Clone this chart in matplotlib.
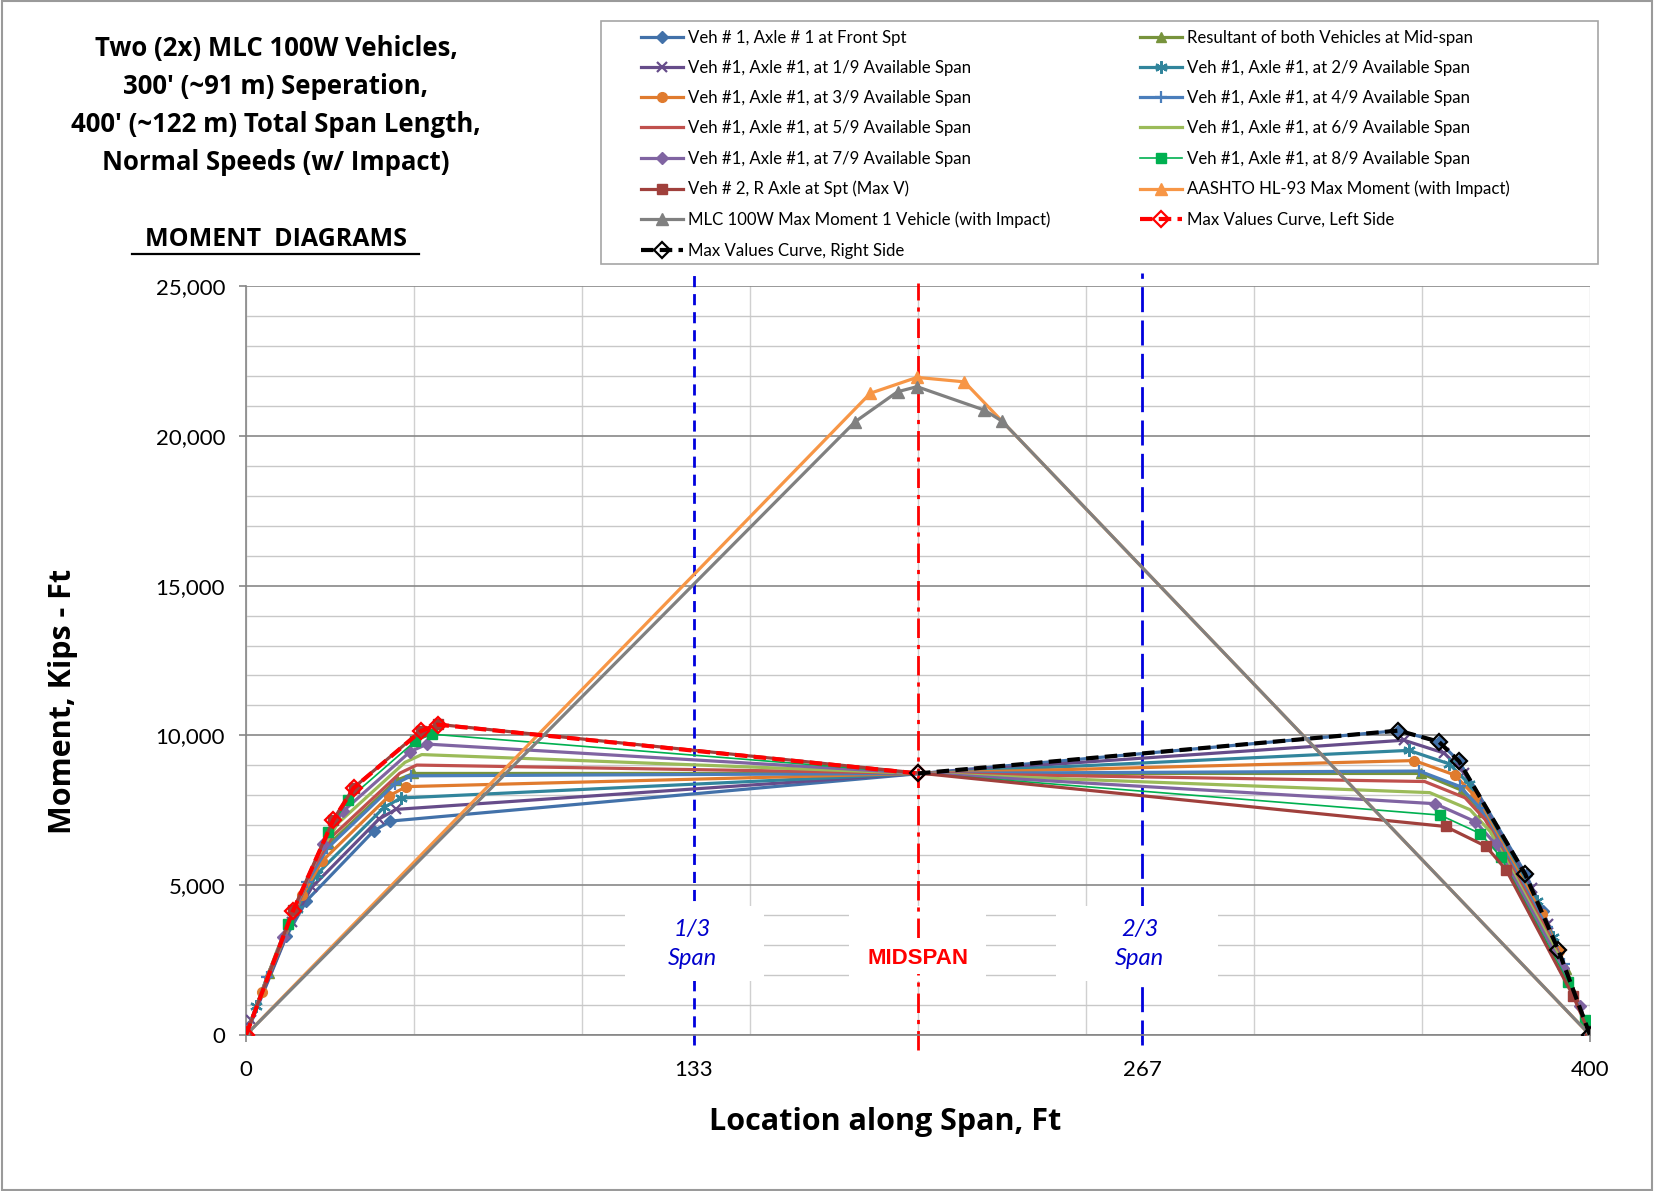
import matplotlib
matplotlib.use("Agg")
import matplotlib.pyplot as plt
from matplotlib.patches import Rectangle
from matplotlib.lines import Line2D
from matplotlib.ticker import FixedLocator, MultipleLocator, FuncFormatter

plt.rcParams['font.family'] = ['Lato', 'DejaVu Sans']

# ---- values: x = location (ft), m = moment (kip-ft) ----
x_front = [0, 12, 18, 38, 43, 343, 355, 361, 381, 386, 400]
m_front = [0, 3290, 4480, 6810, 7140, 10160, 9790, 9140, 5350, 4130, 0]

x_result = [0, 6.8, 18.8, 24.8, 44.8, 49.8, 349.8, 361.8, 367.8, 387.8, 392.8, 400]
m_result = [0, 2080, 5250, 6380, 8500, 8730, 8730, 8170, 7450, 3450, 2210, 0]

x_19 = [0, 1.6, 13.6, 19.6, 39.6, 44.6, 344.6, 356.6, 362.6, 382.6, 387.6, 400]
m_19 = [0, 490, 3760, 4930, 7210, 7530, 9840, 9410, 8740, 4900, 3700, 0]

x_29 = [0, 3.1, 15.1, 21.1, 41.1, 46.1, 346.1, 358.1, 364.1, 384.1, 389.1, 400]
m_29 = [0, 980, 4210, 5370, 7600, 7910, 9500, 9050, 8370, 4480, 3260, 0]

x_39 = [0, 4.7, 16.7, 22.7, 42.7, 47.7, 347.7, 359.7, 365.7, 385.7, 390.7, 400]
m_39 = [0, 1450, 4660, 5810, 7990, 8290, 9160, 8680, 7980, 4050, 2820, 0]

x_49 = [0, 6.2, 18.2, 24.2, 44.2, 49.2, 349.2, 361.2, 367.2, 387.2, 392.2, 400]
m_49 = [0, 1920, 5100, 6230, 8370, 8650, 8810, 8300, 7590, 3610, 2370, 0]

x_59 = [0, 7.8, 19.8, 25.8, 45.8, 50.8, 350.8, 362.8, 368.8, 388.8, 393.8, 400]
m_59 = [0, 2380, 5530, 6650, 8740, 9010, 8460, 7920, 7190, 3160, 1910, 0]

x_69 = [0, 9.3, 21.3, 27.3, 47.3, 52.3, 352.3, 364.3, 370.3, 390.3, 395.3, 400]
m_69 = [0, 2840, 5960, 7060, 9100, 9360, 8090, 7520, 6790, 2710, 1440, 0]

x_79 = [0, 10.9, 22.9, 28.9, 48.9, 53.9, 353.9, 365.9, 371.9, 391.9, 396.9, 400]
m_79 = [0, 3280, 6380, 7470, 9460, 9710, 7720, 7120, 6370, 2250, 970, 0]

x_89 = [0, 12.4, 24.4, 30.4, 50.4, 55.4, 355.4, 367.4, 373.4, 393.4, 398.4, 400]
m_89 = [0, 3720, 6790, 7860, 9810, 10040, 7340, 6720, 5950, 1780, 490, 0]

x_veh2 = [0, 14, 26, 32, 52, 57, 357, 369, 375, 395, 400]
m_veh2 = [0, 4160, 7190, 8250, 10150, 10370, 6960, 6300, 5520, 1300, 0]

x_hl93 = [0, 185.8, 199.7, 213.8, 400]
m_hl93 = [0, 21420, 21950, 21800, 0]

x_mlc = [0, 181.3, 193.9, 199.7, 219.7, 225.0, 400]
m_mlc = [0, 20470, 21470, 21640, 20860, 20490, 0]

x_maxl = [0, 14, 26, 32, 52, 57, 200]
m_maxl = [0, 4150, 7180, 8240, 10140, 10360, 8730]

x_maxr = [200, 343, 355, 361, 380.7, 390.6, 400]
m_maxr = [8730, 10160, 9790, 9140, 5370, 2830, 0]

span_marks = [400 / 3, 200, 800 / 3]
x_ticks = [0, 400 / 3, 800 / 3, 400]
x_ticklabels = ['0', '133', '267', '400']

W, H = 1654, 1191
fig = plt.figure(figsize=(W / 100, H / 100), dpi=100)


def fx(px):
    return px / W


def fy(py):
    return 1 - py / H


ax = fig.add_axes([fx(246), fy(1035), fx(1590) - fx(246), fy(286) - fy(1035)])

# series (drawn in the chart's order, later ones on top)
series = [
    (x_front, m_front, '#4271A9', 2.3, 'D', 6, "Veh # 1, Axle # 1 at Front Spt"),
    (x_result, m_result, '#77933C', 2.3, '^', 7, "Resultant of both Vehicles at Mid-span"),
    (x_19, m_19, '#664C8A', 2.3, 'x', 7, "Veh #1, Axle #1, at 1/9 Available Span"),
    (x_29, m_29, '#31859C', 2.3, (6, 2, 0), 9, "Veh #1, Axle #1, at 2/9 Available Span"),
    (x_39, m_39, '#E07B2E', 2.3, 'o', 7, "Veh #1, Axle #1, at 3/9 Available Span"),
    (x_49, m_49, '#4A7EBB', 2.3, '+', 9, "Veh #1, Axle #1, at 4/9 Available Span"),
    (x_59, m_59, '#C0504D', 2.3, None, 0, "Veh #1, Axle #1, at 5/9 Available Span"),
    (x_69, m_69, '#9BBB59', 2.3, None, 0, "Veh #1, Axle #1, at 6/9 Available Span"),
    (x_79, m_79, '#8064A2', 2.3, 'D', 6, "Veh #1, Axle #1, at 7/9 Available Span"),
    (x_89, m_89, '#00B050', 1.2, 's', 6.5, "Veh #1, Axle #1, at 8/9 Available Span"),
    (x_veh2, m_veh2, '#A0403C', 2.3, 's', 7, "Veh # 2, R Axle at Spt (Max V)"),
    (x_hl93, m_hl93, '#F79646', 2.3, '^', 8, "AASHTO HL-93 Max Moment (with Impact)"),
    (x_mlc, m_mlc, '#808080', 2.3, '^', 8, "MLC 100W Max Moment 1 Vehicle (with Impact)"),
]

handles = {}
z = 3
for xs, ms_, col, lw, mk, msz, lab in series:
    extra = {}
    if mk in ('x', '+') or isinstance(mk, tuple):
        extra['markeredgewidth'] = 1.6
    h, = ax.plot(xs, ms_, color=col, lw=lw, marker=mk, markersize=msz,
                 markeredgecolor=col, markerfacecolor=col, zorder=z, **extra)
    handles[lab] = h
    z += 0.01

h, = ax.plot(x_maxl, m_maxl, color='#FF0000', lw=3, ls=(0, (3, 1.5)), marker='D',
             markersize=8, markerfacecolor='none', markeredgecolor='#FF0000',
             markeredgewidth=1.6, zorder=4)
handles["Max Values Curve, Left Side"] = h
h, = ax.plot(x_maxr, m_maxr, color='black', lw=3, ls=(0, (3, 1.5)), marker='D',
             markersize=8, markerfacecolor='none', markeredgecolor='black',
             markeredgewidth=1.6, zorder=4.1)
handles["Max Values Curve, Right Side"] = h

# span reference lines
ax.plot([span_marks[0]] * 2, [-320, 25390], color='#0000DD', lw=2,
        ls=(0, (4, 2.5)), clip_on=False, zorder=1.5)
ax.plot([span_marks[1]] * 2, [-490, 25100], color='#FF0000', lw=2,
        ls=(0, (7, 2.5, 1.5, 2.5)), clip_on=False, zorder=1.5)
ax.plot([span_marks[2]] * 2, [-320, 25450], color='#0000DD', lw=2,
        ls=(0, (9, 3)), clip_on=False, zorder=1.5)

# white label boxes
ax.add_patch(Rectangle((112.8, 1800), 41.4, 2500, facecolor='white', edgecolor='none', zorder=2))
ax.add_patch(Rectangle((179.5, 1800), 40.7, 2500, facecolor='white', edgecolor='none', zorder=1.2))
ax.add_patch(Rectangle((241.1, 1800), 48.2, 2500, facecolor='white', edgecolor='none', zorder=2))
for xm, top in ((span_marks[0] - 0.5, "1/3"), (266.0, "2/3")):
    ax.text(xm, 3520, top, color='#0000CC', style='italic', fontsize=17,
            ha='center', va='center', zorder=5)
    ax.text(xm, 2540, "Span", color='#0000CC', style='italic', fontsize=17,
            ha='center', va='center', zorder=5)
ax.text(200, 2570, "MIDSPAN", color='#FF0000', fontsize=16, fontweight='bold',
        family='Liberation Sans', ha='center', va='center', zorder=5,
        bbox=dict(facecolor='white', edgecolor='none', pad=4))

# axes styling
ax.set_xlim(0, 400)
ax.set_ylim(0, 25000)
ax.xaxis.set_major_locator(FixedLocator(x_ticks))
ax.set_xticklabels(x_ticklabels)
ax.xaxis.set_minor_locator(MultipleLocator(50))
ax.xaxis.remove_overlapping_locs = False
ax.yaxis.set_major_locator(MultipleLocator(5000))
ax.yaxis.set_minor_locator(MultipleLocator(1000))
ax.yaxis.set_major_formatter(FuncFormatter(lambda v, p: f'{int(v):,}'))
ax.set_axisbelow(True)
ax.grid(which='minor', axis='x', color='#D0D0D0', lw=1)
ax.grid(which='major', axis='y', color='#888888', lw=1.2)
ax.grid(which='minor', axis='y', color='#C8C8C8', lw=1)
ax.tick_params(which='minor', length=0)
ax.tick_params(which='major', direction='out', length=5, color='#868686', width=1.2)
ax.tick_params(axis='y', pad=10, labelsize=16)
ax.tick_params(axis='x', pad=13, labelsize=16)
for side in ('top', 'right'):
    ax.spines[side].set_visible(False)
for side in ('left', 'bottom'):
    ax.spines[side].set_color('#868686')
    ax.spines[side].set_linewidth(1.2)

fig.text(fx(885), fy(1122), "Location along Span, Ft", fontsize=22, fontweight='bold',
         family='Open Sans', ha='center', va='center')
fig.text(fx(63), fy(701), "Moment, Kips - Ft", fontsize=22, fontweight='bold',
         family='Open Sans', ha='center', va='center', rotation=90)

# title block
title_lines = ["Two (2x) MLC 100W Vehicles,", "300' (~91 m) Seperation,",
               "400' (~122 m) Total Span Length,", "Normal Speeds (w/ Impact)"]
for i, line in enumerate(title_lines):
    fig.text(fx(276), fy(48.5 + 38 * i), line, fontsize=18.5, fontweight='bold',
             family='Open Sans', ha='center', va='center')
fig.text(fx(276), fy(240), "MOMENT  DIAGRAMS", fontsize=18, fontweight='bold',
         family='Open Sans', ha='center', va='center')
fig.add_artist(Line2D([fx(132), fx(419)], [fy(254), fy(254)], color='black', lw=1.6))

# legend
left_col = ["Veh # 1, Axle # 1 at Front Spt", "Veh #1, Axle #1, at 1/9 Available Span",
            "Veh #1, Axle #1, at 3/9 Available Span", "Veh #1, Axle #1, at 5/9 Available Span",
            "Veh #1, Axle #1, at 7/9 Available Span", "Veh # 2, R Axle at Spt (Max V)",
            "MLC 100W Max Moment 1 Vehicle (with Impact)", "Max Values Curve, Right Side"]
right_col = ["Resultant of both Vehicles at Mid-span", "Veh #1, Axle #1, at 2/9 Available Span",
             "Veh #1, Axle #1, at 4/9 Available Span", "Veh #1, Axle #1, at 6/9 Available Span",
             "Veh #1, Axle #1, at 8/9 Available Span", "AASHTO HL-93 Max Moment (with Impact)",
             "Max Values Curve, Left Side"]
order = left_col + right_col
fig.legend([handles[k] for k in order], order, ncol=2, loc='upper left',
           bbox_to_anchor=(fx(641), fy(29.5)), frameon=False, fontsize=12.1,
           handlelength=2.5, handletextpad=0.3, columnspacing=5.3,
           labelspacing=0.85, borderpad=0, borderaxespad=0)
fig.add_artist(Rectangle((fx(601), fy(264)), fx(1598) - fx(601), fy(21) - fy(264),
                         transform=fig.transFigure, fill=False, edgecolor='#A6A6A6', lw=1.2))
fig.add_artist(Rectangle((0.001, 0.001), 0.998, 0.998, transform=fig.transFigure,
                         fill=False, edgecolor='#9A9A9A', lw=1.5))

fig.savefig("out.png", dpi=100)
